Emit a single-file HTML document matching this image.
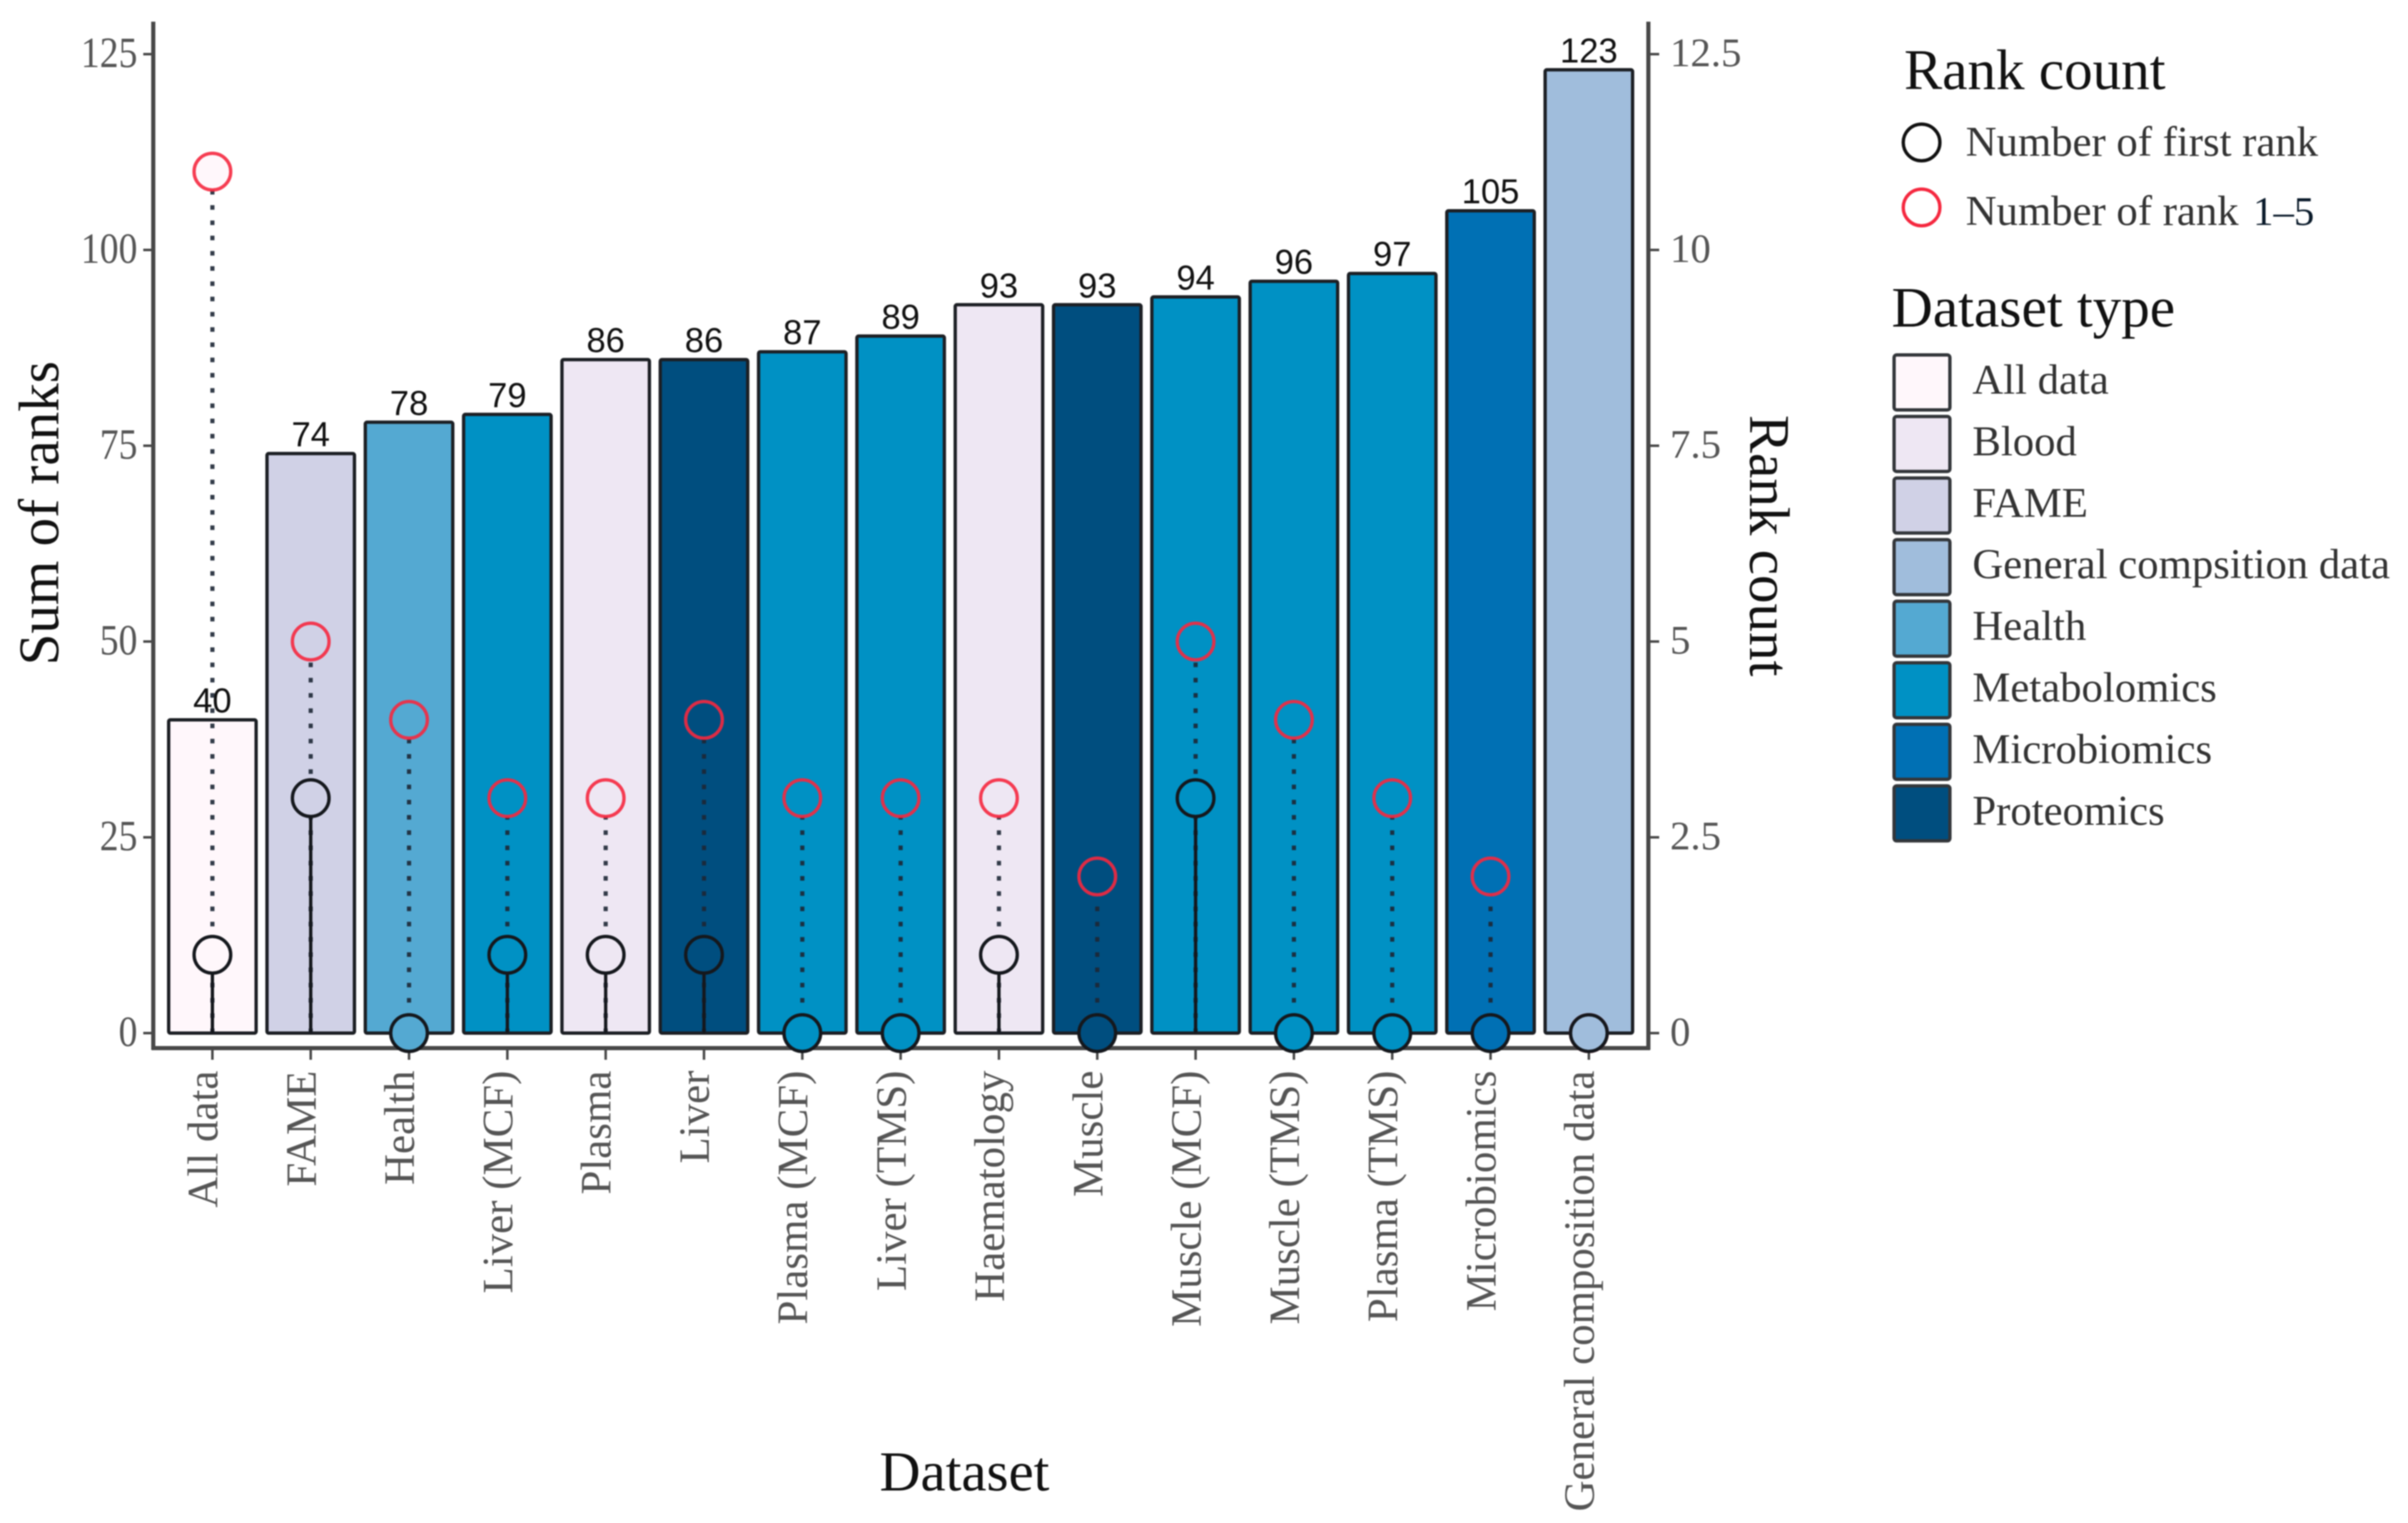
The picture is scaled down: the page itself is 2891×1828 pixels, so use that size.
<!DOCTYPE html>
<html lang="en">
<head>
<meta charset="utf-8">
<title>Sum of ranks by dataset</title>
<style>
html,body{margin:0;padding:0;background:#fff;width:2891px;height:1828px;overflow:hidden}
svg{display:block;filter:blur(.7px)}
text{font-family:"Liberation Serif",serif}
.bar-value{font-family:"Liberation Sans",sans-serif;font-size:41.5px;fill:#111;text-anchor:middle}
.tick{font-size:49px;fill:#555}
.tick-left{font-size:52px;fill:#555;text-anchor:end}
.x-label{font-size:51.5px;fill:#555;text-anchor:end}
.title{font-size:68px;fill:#111}
.legend-label{font-size:51.3px;fill:#333}
</style>
</head>
<body>
<svg id="chart" xmlns="http://www.w3.org/2000/svg" width="2891" height="1828" viewBox="0 0 2891 1828">
  <rect x="0" y="0" width="2891" height="1828" fill="#ffffff"/>
  <g id="bars"></g>
  <g id="stems"></g>
  <g id="axes">
    <line x1="184" y1="26" x2="184" y2="1260" stroke="#484848" stroke-width="5"/>
    <line x1="1979" y1="26" x2="1979" y2="1260" stroke="#484848" stroke-width="5"/>
    <line x1="182" y1="1258" x2="1981" y2="1258" stroke="#484848" stroke-width="5"/>
  </g>
  <g id="points"></g>
  <text class="title" text-anchor="middle" style="font-size:68.5px" transform="translate(70 616) rotate(-90)">Sum of ranks</text>
  <text class="title" text-anchor="middle" style="font-size:68.5px" transform="translate(2101 655) rotate(90)">Rank count</text>
  <text class="title" text-anchor="middle" x="1158" y="1789">Dataset</text>

  <g>
    <text class="title" x="2286" y="107" style="font-size:68.5px">Rank count</text>
    <circle cx="2307" cy="171" r="22" fill="#fff" stroke="#111" stroke-width="4"/>
    <text class="legend-label" x="2360" y="187">Number of first rank</text>
    <circle cx="2307" cy="249" r="22" fill="#fff" stroke="#f5283f" stroke-width="4"/>
    <text class="legend-label" x="2360" y="270">Number of rank <tspan x="2705" fill="#0a1a2a" style="font-size:49px">1–5</tspan></text>
  </g>
  <g id="type-legend">
    <text class="title" x="2271" y="392" style="font-size:68.5px">Dataset type</text>
  </g>
</svg>
<script>
const categories = ["All data","FAME","Health","Liver (MCF)","Plasma","Liver","Plasma (MCF)","Liver (TMS)","Haematology","Muscle","Muscle (MCF)","Muscle (TMS)","Plasma (TMS)","Microbiomics","General composition data"];
const sumOfRanks = [40,74,78,79,86,86,87,89,93,93,94,96,97,105,123];
const firstRankCount = [1,3,0,1,1,1,0,0,1,0,3,0,0,0,0];
const rank1to5Count = [11,5,4,3,3,4,3,3,3,2,5,4,3,2,0];
const datasetTypes = ["All data","FAME","Health","Metabolomics","Blood","Proteomics","Metabolomics","Metabolomics","Blood","Proteomics","Metabolomics","Metabolomics","Metabolomics","Microbiomics","General compsition data"];
const legendTypes = ["All data","Blood","FAME","General compsition data","Health","Metabolomics","Microbiomics","Proteomics"];
const typeColors = ["#fff7fb","#eee7f3","#d0d1e6","#a0bddc","#54a9d2","#0091c4","#0070b4","#004e7f"];
const leftTicks = [0,25,50,75,100,125];
const rightTicks = ["0","2.5","5","7.5","10","12.5"];

const NS = "http://www.w3.org/2000/svg";
const xScale = function (i) { return 255 + i * 118.04; };
const yScale = function (v) { return 1240 - v * 9.4; };
const yRank = function (c) { return yScale(c * 10); };
const colorOf = function (type) { return typeColors[legendTypes.indexOf(type)]; };
const slug = function (s) { return s.toLowerCase().replace(/[^a-z0-9]+/g, "-").replace(/-$/, ""); };

function make(tag, parent, attrs, content) {
  const el = document.createElementNS(NS, tag);
  for (const k in attrs) el.setAttribute(k, attrs[k]);
  if (content !== undefined) el.textContent = content;
  parent.appendChild(el);
  return el;
}

const barsG = document.getElementById("bars");
const stemsG = document.getElementById("stems");
const pointsG = document.getElementById("points");
const axesG = document.getElementById("axes");
const typeLegendG = document.getElementById("type-legend");

categories.forEach(function (name, i) {
  const cx = xScale(i);
  const key = slug(name);
  const fill = colorOf(datasetTypes[i]);

  const bar = make("rect", barsG, {x: cx - 52.5, y: yScale(sumOfRanks[i]), width: 105, height: yScale(0) - yScale(sumOfRanks[i]), rx: 2, fill: fill, stroke: "#1c1f24", "stroke-width": 4});
  
  

  const val = make("text", barsG, {class: "bar-value", x: cx, y: yScale(sumOfRanks[i]) - 9}, String(sumOfRanks[i]));
  
  

  const dotted = make("line", stemsG, {x1: cx, x2: cx, y1: yScale(0), y2: yRank(rank1to5Count[i]), stroke: "#1d2735", "stroke-opacity": 0.9, "stroke-width": 5, "stroke-dasharray": "5.5 12.8"});
  
  

  const solid = make("line", stemsG, {x1: cx, x2: cx, y1: yScale(0), y2: yRank(firstRankCount[i]), stroke: "#15181d", "stroke-width": 4});
  
  

  const tick = make("line", axesG, {x1: cx, x2: cx, y1: 1260, y2: 1272, stroke: "#484848", "stroke-width": 3});
  
  

  const label = make("text", axesG, {class: "x-label", transform: "translate(" + (cx + 6) + " 1285) rotate(-90)"}, name);
  
  

  const red = make("circle", pointsG, {cx: cx, cy: yRank(rank1to5Count[i]), r: 22, fill: fill, stroke: "#f5283f", "stroke-opacity": 0.9, "stroke-width": 4});
  
  

  const black = make("circle", pointsG, {cx: cx, cy: yRank(firstRankCount[i]), r: 22, fill: fill, stroke: "#15181d", "stroke-width": 4});
  
  
});

leftTicks.forEach(function (v) {
  const t = make("line", axesG, {x1: 172, x2: 184, y1: yScale(v), y2: yScale(v), stroke: "#484848", "stroke-width": 3});
  
  
  const l = make("text", axesG, {class: "tick-left", transform: "translate(165 " + (yScale(v) + 15.5) + ") scale(0.87 1)"}, String(v));
  
  
});

rightTicks.forEach(function (s) {
  const c = parseFloat(s);
  const t = make("line", axesG, {x1: 1979, x2: 1992, y1: yRank(c), y2: yRank(c), stroke: "#484848", "stroke-width": 3});
  
  
  const l = make("text", axesG, {class: "tick", x: 2005, y: yRank(c) + 14.5}, s);
  
  
});

legendTypes.forEach(function (type, i) {
  const top = 426 + i * 73.9;
  const sw = make("rect", typeLegendG, {x: 2274, y: top, width: 67, height: 66, rx: 3, fill: typeColors[i], stroke: "#33363a", "stroke-width": 4});
  
  
  const l = make("text", typeLegendG, {class: "legend-label", x: 2368, y: 472.5 + i * 73.9}, type);
  
  
});
</script>
</body>
</html>
